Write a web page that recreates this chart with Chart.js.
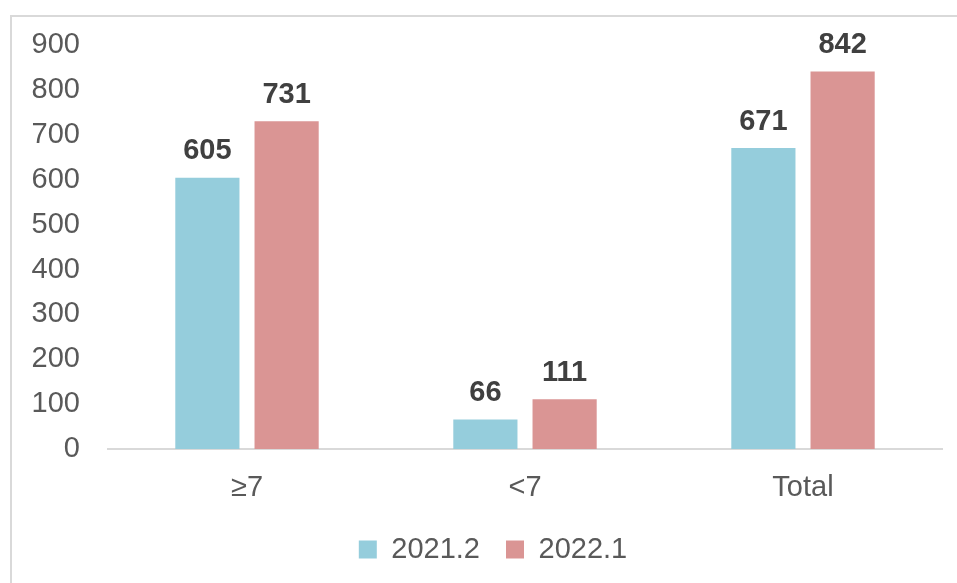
<!DOCTYPE html>
<html lang="en">
<head>
<meta charset="UTF-8">
<title>Bar chart</title>
<script src="https://cdn.jsdelivr.net/npm/chart.js"></script>
<style>
  * { box-sizing: border-box; margin: 0; padding: 0; }
  body { width: 957px; height: 583px; background: #fff; overflow: hidden; position: relative; }
  .frame { position: absolute; left: 10px; top: 15px; width: 1000px; height: 1000px; border: 2px solid #d9d9d9; }
  .wrap { position: absolute; left: 0; top: 0; width: 957px; height: 583px; }
</style>
</head>
<body>
<div class="frame"></div>
<div class="wrap"><canvas id="chart" width="957" height="583"></canvas></div>
<script>
// ─── data ─────────────────────────────────────────────────────────────
const categories = ['≥7', '<7', 'Total'];
const series2021 = [605, 66, 671];
const series2022 = [731, 111, 842];
const seriesNames = ['2021.2', '2022.1'];
const yTicks = [0, 100, 200, 300, 400, 500, 600, 700, 800, 900];

const FONT = "'Liberation Sans', Arial, sans-serif";

// value labels above each bar
const barLabels = {
  id: 'barLabels',
  afterDatasetsDraw(chart) {
    const ctx = chart.ctx;
    ctx.save();
    ctx.font = 'bold 29px ' + FONT;
    ctx.fillStyle = '#404040';
    ctx.textAlign = 'center';
    ctx.textBaseline = 'bottom';
    chart.data.datasets.forEach((ds, i) => {
      chart.getDatasetMeta(i).data.forEach((bar, j) => {
        ctx.fillText(ds.data[j], bar.x, bar.y - 12);
      });
    });
    ctx.restore();
  }
};

// legend sits a little right of the canvas centre in the original
const legendShift = {
  id: 'legendShift',
  afterLayout(chart) {
    chart.legend.left += 22;
    chart.legend.right += 22;
  }
};

new Chart(document.getElementById('chart'), {
  type: 'bar',
  data: {
    labels: categories,
    datasets: [
      { label: seriesNames[0], data: series2021, backgroundColor: '#95cddc' },
      { label: seriesNames[1], data: series2022, backgroundColor: '#da9594' }
    ]
  },
  options: {
    responsive: false,
    animation: false,
    devicePixelRatio: 1,
    layout: { padding: { top: 44, right: 15, left: 0, bottom: 9 } },
    datasets: { bar: { categoryPercentage: 0.57, barPercentage: 0.81 } },
    plugins: {
      tooltip: { enabled: false },
      legend: {
        position: 'bottom',
        labels: {
          font: { family: FONT, size: 29 },
          color: '#595959',
          boxWidth: 18,
          boxHeight: 18,
          padding: 26
        }
      }
    },
    scales: {
      x: {
        grid: { display: false, drawTicks: false },
        border: { color: '#d9d9d9', width: 2 },
        ticks: { font: { family: FONT, size: 29 }, color: '#595959', padding: 22 },
        afterFit(scale) { scale.height = 60; }
      },
      y: {
        min: 0,
        max: 900,
        afterBuildTicks(scale) { scale.ticks = yTicks.map(v => ({ value: v })); },
        grid: { display: false, drawTicks: false },
        border: { display: false },
        ticks: { font: { family: FONT, size: 29 }, color: '#595959', padding: 28 },
        afterFit(scale) { scale.width = 108; }
      }
    }
  },
  plugins: [barLabels, legendShift]
});
</script>
</body>
</html>
